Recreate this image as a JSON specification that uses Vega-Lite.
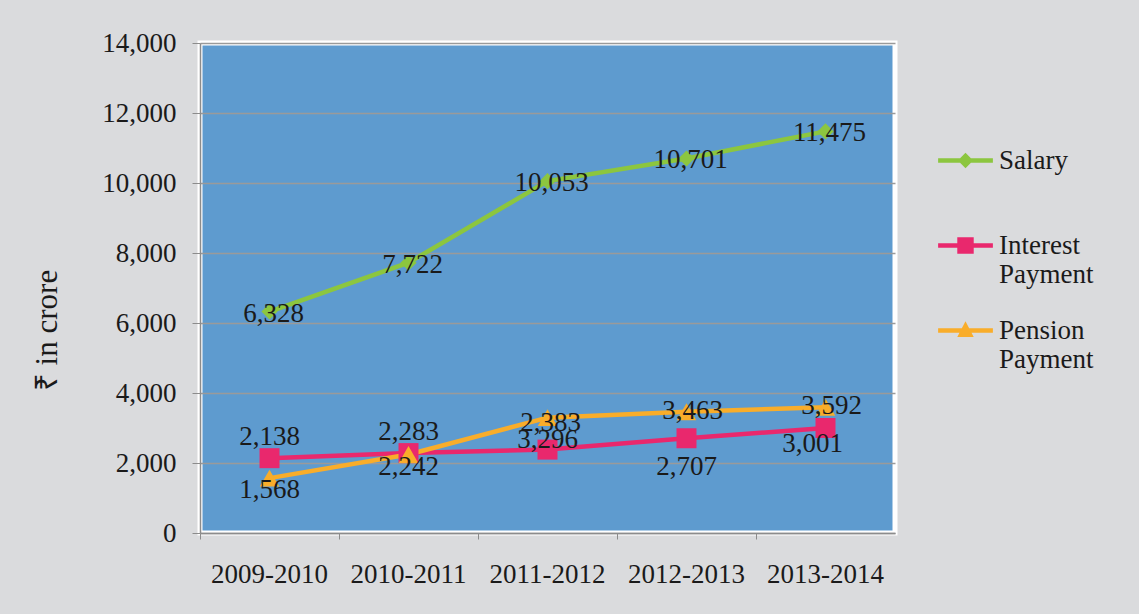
{
  "$schema": "https://vega.github.io/schema/vega-lite/v6.json",
  "width": 695,
  "height": 490,
  "autosize": {"type": "none"},
  "padding": {"left": 200, "top": 43, "right": 244, "bottom": 81},
  "background": "#dadbdd",
  "config": {
    "font": "Liberation Serif",
    "view": {"fill": "#5e9bcf", "stroke": "#ffffff", "strokeWidth": 5}
  },
  "data": {
    "values": [
      {"year": "2009-2010", "series": "Salary", "value": 6328},
      {"year": "2010-2011", "series": "Salary", "value": 7722},
      {"year": "2011-2012", "series": "Salary", "value": 10053},
      {"year": "2012-2013", "series": "Salary", "value": 10701},
      {"year": "2013-2014", "series": "Salary", "value": 11475},
      {"year": "2009-2010", "series": "Interest Payment", "value": 2138},
      {"year": "2010-2011", "series": "Interest Payment", "value": 2283},
      {"year": "2011-2012", "series": "Interest Payment", "value": 2383},
      {"year": "2012-2013", "series": "Interest Payment", "value": 2707},
      {"year": "2013-2014", "series": "Interest Payment", "value": 3001},
      {"year": "2009-2010", "series": "Pension Payment", "value": 1568},
      {"year": "2010-2011", "series": "Pension Payment", "value": 2242},
      {"year": "2011-2012", "series": "Pension Payment", "value": 3296},
      {"year": "2012-2013", "series": "Pension Payment", "value": 3463},
      {"year": "2013-2014", "series": "Pension Payment", "value": 3592}
    ]
  },
  "encoding": {
    "x": {
      "field": "year",
      "type": "ordinal",
      "bandPosition": 0.5,
      "scale": {"type": "band", "paddingInner": 0, "paddingOuter": 0},
      "axis": {
        "title": null,
        "bandPosition": 0,
        "labelAngle": 0,
        "labelFontSize": 27,
        "labelColor": "#1a1a1a",
        "labelPadding": 22,
        "tickSize": 6,
        "tickColor": "#8c8c8c",
        "domainColor": "#8c8c8c",
        "domainWidth": 1.5,
        "grid": false
      }
    },
    "y": {
      "field": "value",
      "type": "quantitative",
      "scale": {"domain": [0, 14000], "nice": false},
      "axis": {
        "title": "₹ in crore",
        "titleFontSize": 31,
        "titleFontWeight": "normal",
        "titleColor": "#1a1a1a",
        "titleX": -153,
        "titleY": 287,
        "titleAngle": -90,
        "titleAlign": "center",
        "titleBaseline": "middle",
        "values": [0, 2000, 4000, 6000, 8000, 10000, 12000, 14000],
        "labelExpr": "format(datum.value, ',.0f')",
        "labelFontSize": 27,
        "labelColor": "#1a1a1a",
        "labelPadding": 16,
        "tickSize": 8,
        "tickColor": "#8c8c8c",
        "domainColor": "#8c8c8c",
        "domainWidth": 1.5,
        "grid": true,
        "gridColor": "#9a9a9a",
        "gridWidth": 1.5
      }
    },
    "color": {
      "field": "series",
      "type": "nominal",
      "sort": ["Salary", "Interest Payment", "Pension Payment"],
      "scale": {"domain": ["Salary", "Interest Payment", "Pension Payment"], "range": ["#8cc63f", "#e9286d", "#f9ad2a"]},
      "legend": {
        "title": null,
        "orient": "none",
        "legendX": 738,
        "legendY": 90,
        "symbolType": "M-1,-0.09H1V0.09H-1Z",
        "symbolSize": 3000,
        "symbolStrokeWidth": 0,
        "labelFontSize": 27,
        "labelColor": "#1a1a1a",
        "labelOffset": 6,
        "labelExpr": "datum.label == 'Salary' ? ['Salary', ' '] : split(datum.label, ' ')",
        "rowPadding": 15,
        "encode": {
          "symbols": {
            "update": {
              "shape": {"signal": "datum.value == 'Salary' ? 'M-1,-0.08H1V0.08H-1Z M0,-0.28L0.28,0L0,0.28L-0.28,0Z' : datum.value == 'Interest Payment' ? 'M-1,-0.08H1V0.08H-1Z M-0.3,-0.3H0.3V0.3H-0.3Z' : 'M-1,-0.08H1V0.08H-1Z M0,-0.34L0.3,0.24H-0.3Z'"},
              "fill": {"signal": "datum.value == 'Salary' ? '#8cc63f' : datum.value == 'Interest Payment' ? '#e9286d' : '#f9ad2a'"},
              "fillOpacity": {"value": 1},
              "strokeWidth": {"value": 0}
            }
          }
        }
      }
    }
  },
  "layer": [
    {"mark": {"type": "line", "strokeWidth": 4.5}},
    {
      "transform": [{"filter": "datum.series == 'Salary'"}],
      "mark": {"type": "point", "shape": "diamond", "filled": true, "opacity": 1, "size": 260}
    },
    {
      "transform": [{"filter": "datum.series == 'Interest Payment'"}],
      "mark": {"type": "point", "shape": "square", "filled": true, "opacity": 1, "size": 400}
    },
    {
      "transform": [{"filter": "datum.series == 'Pension Payment'"}],
      "mark": {"type": "point", "shape": "triangle-up", "filled": true, "opacity": 1, "size": 380}
    },
    {
      "transform": [{"filter": "datum.series == 'Salary'"}],
      "mark": {"type": "text", "fontSize": 27, "dy": 2, "dx": 4},
      "encoding": {"text": {"field": "value", "type": "quantitative", "format": ",.0f"}, "color": {"value": "#1a1a1a"}}
    },
    {
      "transform": [{"filter": "datum.series == 'Interest Payment' && (datum.year == '2009-2010' || datum.year == '2010-2011')"}],
      "mark": {"type": "text", "fontSize": 27, "dy": -21},
      "encoding": {"text": {"field": "value", "type": "quantitative", "format": ",.0f"}, "color": {"value": "#1a1a1a"}}
    },
    {
      "transform": [{"filter": "datum.series == 'Interest Payment' && datum.year == '2011-2012'"}],
      "mark": {"type": "text", "fontSize": 27, "dy": -27, "dx": 3},
      "encoding": {"text": {"field": "value", "type": "quantitative", "format": ",.0f"}, "color": {"value": "#1a1a1a"}}
    },
    {
      "transform": [{"filter": "datum.series == 'Interest Payment' && datum.year == '2012-2013'"}],
      "mark": {"type": "text", "fontSize": 27, "dy": 29},
      "encoding": {"text": {"field": "value", "type": "quantitative", "format": ",.0f"}, "color": {"value": "#1a1a1a"}}
    },
    {
      "transform": [{"filter": "datum.series == 'Interest Payment' && datum.year == '2013-2014'"}],
      "mark": {"type": "text", "fontSize": 27, "dy": 16, "dx": -13},
      "encoding": {"text": {"field": "value", "type": "quantitative", "format": ",.0f"}, "color": {"value": "#1a1a1a"}}
    },
    {
      "transform": [{"filter": "datum.series == 'Pension Payment' && (datum.year == '2009-2010' || datum.year == '2010-2011')"}],
      "mark": {"type": "text", "fontSize": 27, "dy": 12},
      "encoding": {"text": {"field": "value", "type": "quantitative", "format": ",.0f"}, "color": {"value": "#1a1a1a"}}
    },
    {
      "transform": [{"filter": "datum.series == 'Pension Payment' && datum.year == '2011-2012'"}],
      "mark": {"type": "text", "fontSize": 27, "dy": 22},
      "encoding": {"text": {"field": "value", "type": "quantitative", "format": ",.0f"}, "color": {"value": "#1a1a1a"}}
    },
    {
      "transform": [{"filter": "datum.series == 'Pension Payment' && (datum.year == '2012-2013' || datum.year == '2013-2014')"}],
      "mark": {"type": "text", "fontSize": 27, "dy": -1, "dx": 6},
      "encoding": {"text": {"field": "value", "type": "quantitative", "format": ",.0f"}, "color": {"value": "#1a1a1a"}}
    }
  ]
}
